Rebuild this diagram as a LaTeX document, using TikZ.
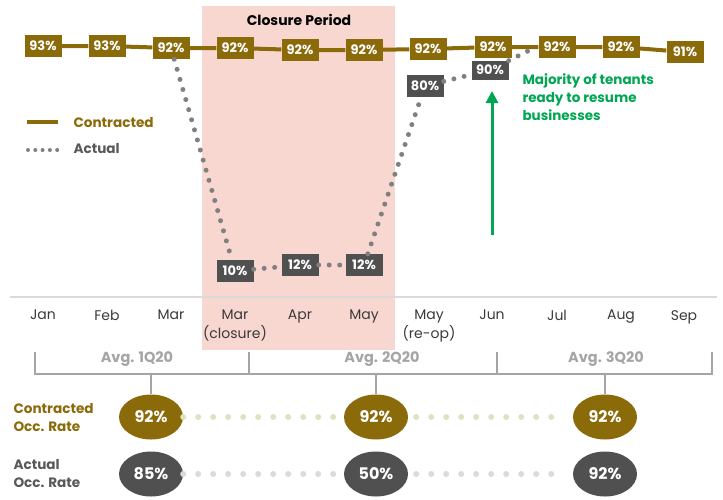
\documentclass[tikz,border=0pt]{standalone}
\usepackage{fontspec}
\setmainfont{Poppins}
\usetikzlibrary{arrows.meta,shapes.geometric}
\definecolor{contr}{RGB}{139,106,10}
\definecolor{actbox}{RGB}{80,80,80}
\definecolor{dotgray}{RGB}{128,128,128}
\definecolor{closurepink}{RGB}{248,215,208}
\definecolor{notegreen}{RGB}{0,166,81}
\definecolor{brkgray}{RGB}{165,165,165}
\definecolor{monthcol}{RGB}{58,58,58}
\definecolor{lightolive}{RGB}{222,226,192}
\definecolor{lightgray}{RGB}{218,218,218}
\definecolor{labgray}{RGB}{89,89,89}

\begin{document}
\begin{tikzpicture}[x=1pt,y=-1pt,
  cbox/.style={fill=contr,text=white,font=\bfseries\fontsize{13}{13}\selectfont,
    minimum width=37pt,minimum height=22pt,inner sep=0pt},
  abox/.style={cbox,fill=actbox},
  cline/.style={contr,line width=4pt},
  aline/.style={dotgray,line width=5pt,line cap=round,dash pattern=on 0pt off 10.5pt},
  month/.style={text=monthcol,font=\fontsize{14}{19}\selectfont,align=center,anchor=north,inner sep=0pt},
  brk/.style={brkgray,line width=2.5pt},
  avg/.style={text=brkgray,font=\bfseries\fontsize{14.5}{14.5}\selectfont},
  cell/.style={ellipse,minimum width=64pt,minimum height=45pt,inner sep=0pt,
    text=white,font=\bfseries\fontsize{16}{16}\selectfont},
  celldots/.style={line width=6pt,line cap=round,dash pattern=on 0pt off 15pt,
    shorten <=8pt,shorten >=8pt}
]
\useasboundingbox (0,0) rectangle (723,499);

% closure period
\fill[closurepink] (202,6) rectangle (395,350);
\node[font=\bfseries\fontsize{14}{14}\selectfont] (cp) at (299,20) {Closure Period};
\draw[lightgray,line width=1.5pt] (10,297) -- (717,297);

% contracted
\node[cbox] (c1) at (43,46) {93\%};
\node[cbox] (c2) at (107,46) {93\%};
\node[cbox] (c3) at (171,48) {92\%};
\node[cbox] (c4) at (235,48) {92\%};
\node[cbox] (c5) at (300,50) {92\%};
\node[cbox] (c6) at (364,50) {92\%};
\node[cbox] (c7) at (428,49) {92\%};
\node[cbox] (c8) at (493,47) {92\%};
\node[cbox] (c9) at (557,47) {92\%};
\node[cbox] (c10) at (621,47) {92\%};
\node[cbox] (c11) at (685,52) {91\%};
\draw[cline] (c1) -- (c2) -- (c3) -- (c4) -- (c5) -- (c6) -- (c7) -- (c8) -- (c9) -- (c10) -- (c11);

% actual
\node[abox] (a4) at (235,271) {10\%};
\node[abox] (a5) at (300,265) {12\%};
\node[abox] (a6) at (364,265) {12\%};
\node[abox] (a7) at (425,86) {80\%};
\node[abox,minimum height=19pt] (a8) at (490,70) {90\%};
\coordinate (j) at (530,50);
\draw[aline] (c3) -- (a4) -- (a5) -- (a6) -- (a7) -- (a8) -- (j);

% legend
\coordinate (lc0) at (27,122);
\coordinate (lc1) at (58,122);
\draw[cline] (lc0) -- (lc1);
\node[anchor=west,text=contr,font=\bfseries\fontsize{13.6}{13.6}\selectfont] (lcl) at (70,123) {Contracted};
\coordinate (la0) at (28,150);
\coordinate (la1) at (58,150);
\draw[dotgray,line width=4pt,line cap=round,dash pattern=on 0pt off 7.3pt] (la0) -- (la1);
\node[anchor=west,text=labgray,font=\bfseries\fontsize{13.6}{13.6}\selectfont] (lal) at (70,149) {Actual};

% note
\coordinate (g0) at (492,235);
\coordinate (g1) at (492,91);
\draw[notegreen,line width=3pt,-{Triangle[width=12pt,length=12pt]}] (g0) -- (g1);
\node[anchor=north west,align=left,text=notegreen,font=\bfseries\fontsize{13.5}{18}\selectfont] (note) at (519,70)
  {Majority of tenants\\ready to resume\\businesses};

% months
\foreach \x/\m [count=\i] in {43/Jan,107/Feb,171/Mar,235/{Mar\\(closure)},300/Apr,364/May,
    429/{May\\(re-op)},492/Jun,557/Jul,621/Aug,684/Sep}
  \node[month] (m\i) at (\x,310) {\m};

% quarter brackets
\draw[brk] (35,352) |- (712,374) -- (712,352);
\draw[brk] (249,352) -- (249,374);
\draw[brk] (497,352) -- (497,374);
\node[avg] (av1) at (137,359) {Avg. 1Q20};
\node[avg] (av2) at (382,359) {Avg. 2Q20};
\node[avg] (av3) at (606,359) {Avg. 3Q20};

% occupancy rates
\node[cell,fill=contr] (e1c) at (151,417) {92\%};
\node[cell,fill=contr] (e2c) at (376,417) {92\%};
\node[cell,fill=contr] (e3c) at (605,417) {92\%};
\node[cell,fill=actbox] (e1a) at (151,474) {85\%};
\node[cell,fill=actbox] (e2a) at (376,474) {50\%};
\node[cell,fill=actbox] (e3a) at (605,474) {92\%};
\coordinate (q1) at (151,374);
\coordinate (q2) at (376,374);
\coordinate (q3) at (605,374);
\draw[brk] (q1) -- (e1c);
\draw[brk] (q2) -- (e2c);
\draw[brk] (q3) -- (e3c);
\draw[celldots,lightolive] (e1c) -- (e2c) -- (e3c);
\draw[celldots,lightgray] (e1a) -- (e2a) -- (e3a);

\node[anchor=west,align=left,text=contr,font=\bfseries\fontsize{13.6}{18}\selectfont] (rl1) at (10,418) {Contracted\\Occ. Rate};
\node[anchor=west,align=left,text=labgray,font=\bfseries\fontsize{13.6}{18}\selectfont] (rl2) at (10,474) {Actual\\Occ. Rate};
\end{tikzpicture}
\end{document}
